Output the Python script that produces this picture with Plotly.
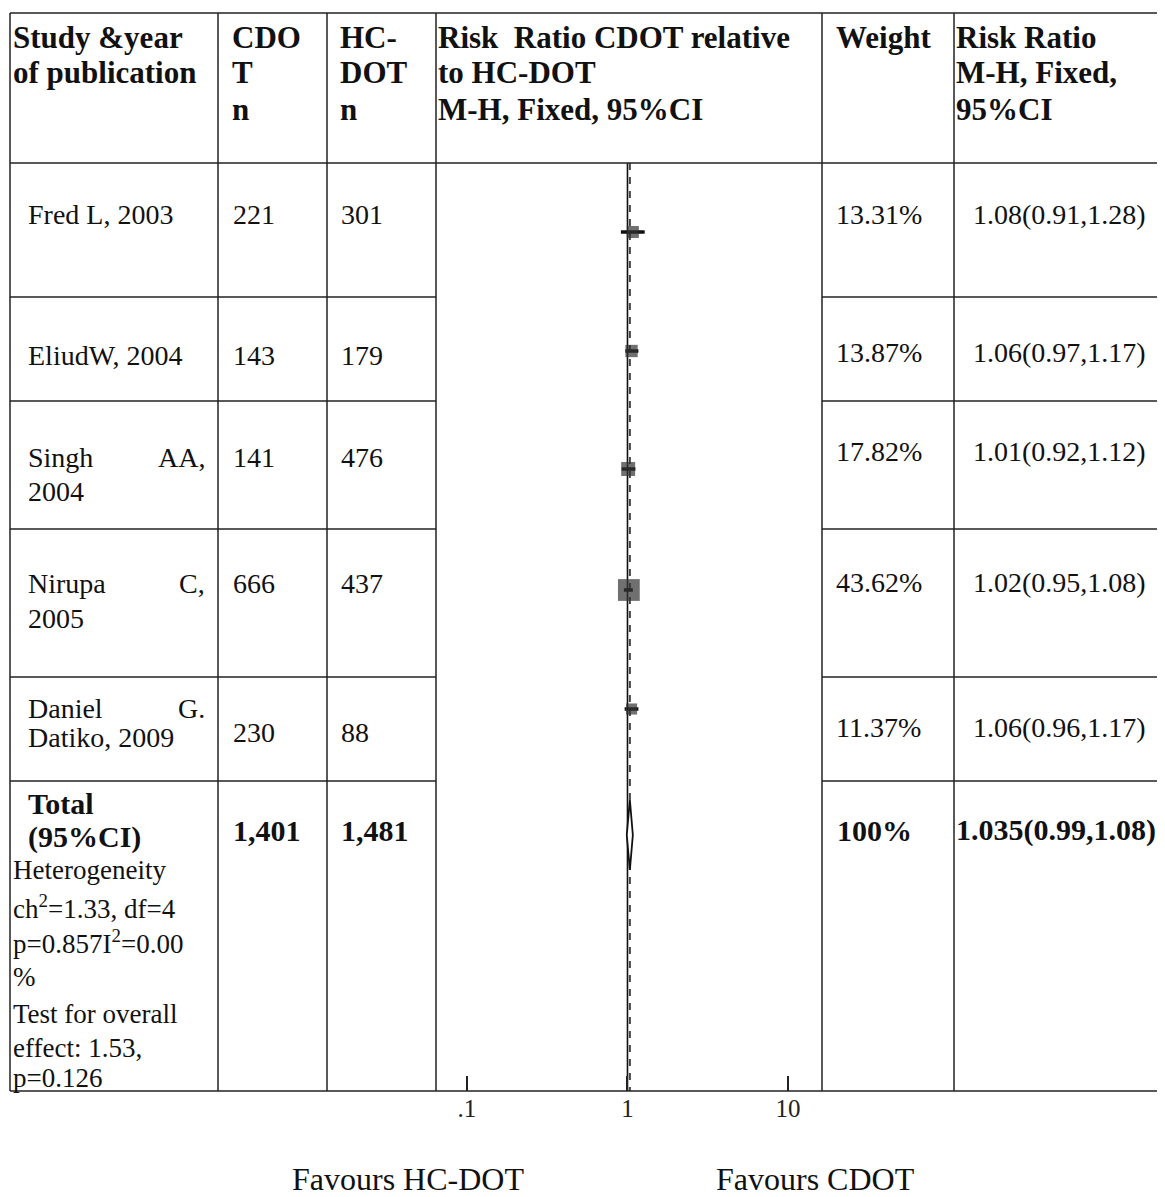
import plotly.graph_objects as go

# ---------------- data ----------------
studies = ["Fred L, 2003", "EliudW, 2004", "Singh AA, 2004", "Nirupa C, 2005", "Daniel G. Datiko, 2009"]
cdot_n = ["221", "143", "141", "666", "230"]
hcdot_n = ["301", "179", "476", "437", "88"]
weights = [13.31, 13.87, 17.82, 43.62, 11.37]
rr = [1.08, 1.06, 1.01, 1.02, 1.06]
rr_lo = [0.91, 0.97, 0.92, 0.95, 0.96]
rr_hi = [1.28, 1.17, 1.12, 1.08, 1.17]
weight_labels = ["13.31%", "13.87%", "17.82%", "43.62%", "11.37%"]
rr_labels = ["1.08(0.91,1.28)", "1.06(0.97,1.17)", "1.01(0.92,1.12)", "1.02(0.95,1.08)", "1.06(0.96,1.17)"]
total_cdot = "1,401"
total_hcdot = "1,481"
total_weight = "100%"
pooled_rr = 1.035
pooled_lo = 0.99
pooled_hi = 1.08
pooled_label = "1.035(0.99,1.08)"
tick_vals = [0.1, 1, 10]
tick_text = [".1", "1", "10"]

# ---------------- layout helpers ----------------
OX, OY = 8, 8            # page body margin offset
W, H = 1157, 1189
FONT = "Liberation Serif, Times New Roman, serif"
def px(x): return (x - OX) / W
def py(y): return 1 - (y - OY) / H

col_x = [10, 218, 327, 436, 822, 954]
row_lines = [297, 401, 529, 677, 781]
top_y, head_y, bot_y = 13, 163, 1091
row_centers = [232, 351, 469, 590, 709]
diamond_c, diamond_h = 835, 35

fig = go.Figure()

# reference line at 1 and dashed pooled line
fig.add_trace(go.Scatter(x=[1, 1], y=[head_y, bot_y], mode="lines",
                         line=dict(color="#111", width=1.6), hoverinfo="skip", showlegend=False))
fig.add_trace(go.Scatter(x=[pooled_rr, pooled_rr], y=[head_y, bot_y], mode="lines",
                         line=dict(color="#444", width=2, dash="7px,7px"), hoverinfo="skip", showlegend=False))

# study estimates
fig.add_trace(go.Scatter(
    x=rr, y=row_centers, mode="markers",
    marker=dict(symbol="square", color="#333", size=[3.3 * w ** 0.5 for w in weights],
                line=dict(width=0)),
    error_x=dict(type="data", symmetric=False,
                 array=[h - r for h, r in zip(rr_hi, rr)],
                 arrayminus=[r - l for r, l in zip(rr, rr_lo)],
                 color="#111", thickness=3.5, width=0),
    showlegend=False, hoverinfo="skip"))

# pooled diamond
fig.add_trace(go.Scatter(
    x=[pooled_lo, pooled_rr, pooled_hi, pooled_rr, pooled_lo],
    y=[diamond_c, diamond_c - diamond_h, diamond_c, diamond_c + diamond_h, diamond_c],
    mode="lines", line=dict(color="#111", width=1.8), fill="toself", fillcolor="white",
    showlegend=False, hoverinfo="skip"))

fig.update_layout(
    width=W, height=H, margin=dict(l=0, r=0, t=0, b=0),
    paper_bgcolor="white", plot_bgcolor="white",
    xaxis=dict(type="log", domain=[px(436), px(822)], range=[-1.193, 1.212],
               tickvals=tick_vals, ticktext=tick_text, ticks="inside", ticklen=15,
               tickcolor="#222", tickwidth=1.5, showline=False, showgrid=False,
               zeroline=False, tickfont=dict(family=FONT, size=25, color="#222"),
               fixedrange=True),
    yaxis=dict(domain=[py(bot_y), py(head_y)], range=[bot_y, head_y], visible=False,
               showgrid=False, zeroline=False, fixedrange=True),
)

shapes = []
def hline(x0, x1, y, w=1.5):
    shapes.append(dict(type="line", xref="paper", yref="paper", x0=px(x0), x1=px(x1),
                       y0=py(y), y1=py(y), line=dict(color="#222", width=w)))
def vline(x, y0, y1, w=1.5):
    shapes.append(dict(type="line", xref="paper", yref="paper", x0=px(x), x1=px(x),
                       y0=py(y0), y1=py(y1), line=dict(color="#222", width=w)))

hline(10, 1165, top_y)
hline(10, 1165, head_y)
hline(10, 1165, bot_y)
for x in col_x:
    vline(x, top_y, bot_y)
for y in row_lines:
    hline(10, 436, y)
    hline(822, 1165, y)
fig.update_layout(shapes=shapes)

ann = []
def text(x, y, s, size=28, bold=False, anchor="left"):
    ann.append(dict(xref="paper", yref="paper", x=px(x), y=py(y), text=(f"<b>{s}</b>" if bold else s),
                    showarrow=False, xanchor=anchor, yanchor="middle",
                    font=dict(family=FONT, size=size, color="#111")))

# header
HS = 31
text(11, 37, "Study &amp;year", HS, True)
text(11, 73, "of publication", HS, True)
text(230, 37, "CDO", HS, True)
text(230, 73, "T", HS, True)
text(230, 110, "n", HS, True)
text(338, 37, "HC-", HS, True)
text(338, 73, "DOT", HS, True)
text(338, 110, "n", HS, True)
text(436, 37, "Risk  Ratio CDOT relative", HS, True)
text(436, 73, "to HC-DOT", HS, True)
text(436, 110, "M-H, Fixed, 95%CI", HS, True)
text(834, 37, "Weight", HS, True)
text(954, 37, "Risk Ratio", HS, True)
text(954, 73, "M-H, Fixed,", HS, True)
text(954, 110, "95%CI", HS, True)

# study rows: name layout (first line left/right parts, second line)
name_layout = [
    [("Fred L, 2003", None)],
    [("EliudW, 2004", None)],
    [("Singh", "AA,"), ("2004", None)],
    [("Nirupa", "C,"), ("2005", None)],
    [("Daniel", "G."), ("Datiko, 2009", None)],
]
name_y = [[215], [355], [457, 491], [583, 618], [708, 737]]
num_y = [215, 355, 457, 583, 732]
wt_y = [215, 352, 452, 582, 728]
for i in range(len(studies)):
    for (left, right), yy in zip(name_layout[i], name_y[i]):
        text(26, yy, left)
        if right:
            text(207, yy, right, anchor="right")
    text(231, num_y[i], cdot_n[i])
    text(339, num_y[i], hcdot_n[i])
    text(834, wt_y[i], weight_labels[i])
    text(1148, wt_y[i], rr_labels[i], anchor="right")

# total row
BS = 30
text(26, 803, "Total", BS, True)
text(26, 837, "(95%CI)", BS, True)
text(231, 830, total_cdot, BS, True)
text(339, 830, total_hcdot, BS, True)
text(835, 830, total_weight, BS, True)
text(954, 830, pooled_label, BS, True)
foot = ["Heterogeneity", "ch<sup>2</sup>=1.33, df=4", "p=0.857I<sup>2</sup>=0.00", "%",
        "Test for overall", "effect: 1.53,", "p=0.126"]
foot_y = [870, 907, 942, 977, 1014, 1048, 1078]
for s, yy in zip(foot, foot_y):
    text(11, yy, s, 27)

text(408, 1179, "Favours HC-DOT", 32, anchor="center")
text(815, 1179, "Favours CDOT", 32, anchor="center")

fig.update_layout(annotations=ann)
fig.write_html("out.html")
